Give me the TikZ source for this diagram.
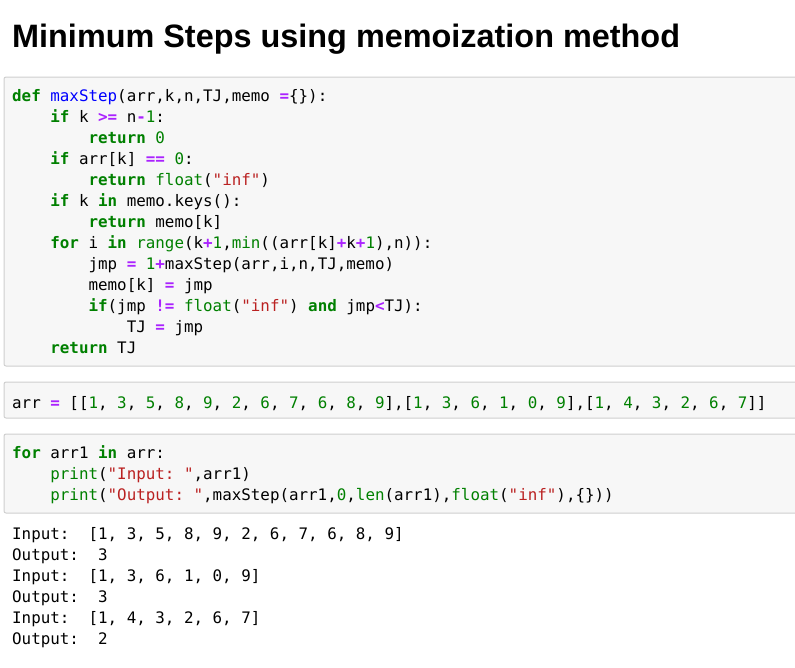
\documentclass[tikz,border=0pt]{standalone}
\usepackage{fontspec}
\setmonofont{DejaVu Sans Mono}
\newfontfamily\titlefont{Liberation Sans}
\usetikzlibrary{positioning}
\definecolor{pykw}{HTML}{008000}
\definecolor{pyfn}{HTML}{0000FF}
\definecolor{pyop}{HTML}{AA22FF}
\definecolor{pystr}{HTML}{BA2121}
\definecolor{cellbg}{HTML}{F7F7F7}
\definecolor{cellborder}{HTML}{CFCFCF}
\newcommand{\kw}[1]{\textcolor{pykw}{\bfseries #1}}
\newcommand{\fn}[1]{\textcolor{pyfn}{#1}}
\newcommand{\op}[1]{\textcolor{pyop}{\bfseries #1}}
\newcommand{\nm}[1]{\textcolor{pykw}{#1}}
\newcommand{\bi}[1]{\textcolor{pykw}{#1}}
\newcommand{\st}[1]{\textcolor{pystr}{#1}}
\def\charw{9.55}
\tikzset{
    cell/.style = {
        draw=cellborder, fill=cellbg, rounded corners=2pt, line width=1pt
    },
    codeline/.style = {
        anchor=base west, inner sep=0pt, text=black,
        font=\ttfamily\fontsize{15.86}{21}\selectfont
    },
    outline/.style = {
        codeline
    }
}
\begin{document}
\begin{tikzpicture}[x=1pt, y=-1pt]
        \useasboundingbox (0,0) rectangle (795,667);
        % Title
        \node[anchor=base west, inner sep=0pt, font=\titlefont\bfseries\fontsize{32.4}{38}\selectfont] (title) at (12,47) {Minimum Steps using memoization method};

        % Place the cells
        \draw[cell] (4,77) rectangle (810,366);
        \draw[cell] (4,382) rectangle (810,418);
        \draw[cell] (4,434) rectangle (810,513);

        % First cell: the function
        \node[codeline] (c1) at (12,101) {\kw{def} \fn{maxStep}(arr,k,n,TJ,memo \op{=}\{\}):};
        \node[codeline] (c2) at (12+4*\charw,122) {\kw{if} k \op{>=} n\op{-}\nm{1}:};
        \node[codeline] (c3) at (12+8*\charw,143) {\kw{return} \nm{0}};
        \node[codeline] (c4) at (12+4*\charw,164) {\kw{if} arr[k] \op{==} \nm{0}:};
        \node[codeline] (c5) at (12+8*\charw,185) {\kw{return} \bi{float}(\st{"inf"})};
        \node[codeline] (c6) at (12+4*\charw,206) {\kw{if} k \kw{in} memo.keys():};
        \node[codeline] (c7) at (12+8*\charw,227) {\kw{return} memo[k]};
        \node[codeline] (c8) at (12+4*\charw,248) {\kw{for} i \kw{in} \bi{range}(k\op{+}\nm{1},\bi{min}((arr[k]\op{+}k\op{+}\nm{1}),n)):};
        \node[codeline] (c9) at (12+8*\charw,269) {jmp \op{=} \nm{1}\op{+}maxStep(arr,i,n,TJ,memo)};
        \node[codeline] (c10) at (12+8*\charw,290) {memo[k] \op{=} jmp};
        \node[codeline] (c11) at (12+8*\charw,311) {\kw{if}(jmp \op{!=} \bi{float}(\st{"inf"}) \kw{and} jmp\op{<}TJ):};
        \node[codeline] (c12) at (12+12*\charw,332) {TJ \op{=} jmp};
        \node[codeline] (c13) at (12+4*\charw,353) {\kw{return} TJ};

        % Second cell: the data
        \node[codeline] (arr) at (12,408) {arr \op{=} [[\nm{1}, \nm{3}, \nm{5}, \nm{8}, \nm{9}, \nm{2}, \nm{6}, \nm{7}, \nm{6}, \nm{8}, \nm{9}],[\nm{1}, \nm{3}, \nm{6}, \nm{1}, \nm{0}, \nm{9}],[\nm{1}, \nm{4}, \nm{3}, \nm{2}, \nm{6}, \nm{7}]]};

        % Third cell: the loop
        \node[codeline] (loop1) at (12,458) {\kw{for} arr1 \kw{in} arr:};
        \node[codeline] (loop2) at (12+4*\charw,479) {\bi{print}(\st{"Input: "},arr1)};
        \node[codeline] (loop3) at (12+4*\charw,500) {\bi{print}(\st{"Output: "},maxStep(arr1,\nm{0},\bi{len}(arr1),\bi{float}(\st{"inf"}),\{\}))};

        % Output
        \node[outline] (out1) at (12,539) {Input:~ [1, 3, 5, 8, 9, 2, 6, 7, 6, 8, 9]};
        \node[outline] (out2) at (12,560) {Output:~ 3};
        \node[outline] (out3) at (12,581) {Input:~ [1, 3, 6, 1, 0, 9]};
        \node[outline] (out4) at (12,602) {Output:~ 3};
        \node[outline] (out5) at (12,623) {Input:~ [1, 4, 3, 2, 6, 7]};
        \node[outline] (out6) at (12,644) {Output:~ 2};
\end{tikzpicture}
\end{document}
